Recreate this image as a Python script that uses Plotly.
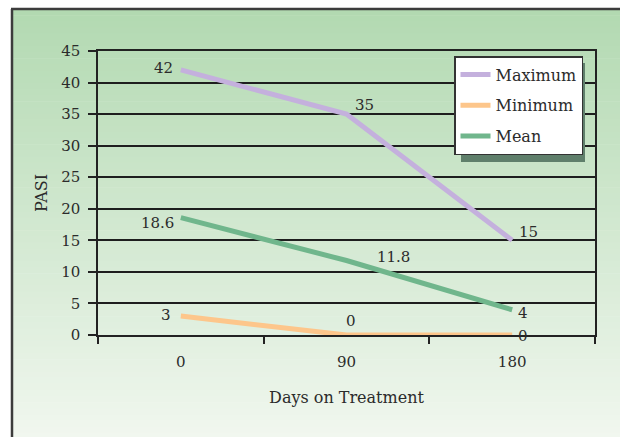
import plotly.graph_objects as go

# ---------------- data ----------------
days = ["0", "90", "180"]
maximum = [42, 35, 15]
minimum = [3, 0, 0]
mean = [18.6, 11.8, 4]
max_labels = ["42", "35", "15"]
min_labels = ["3", "0", "0"]
mean_labels = ["18.6", "11.8", "4"]
y_ticks = [0, 5, 10, 15, 20, 25, 30, 35, 40, 45]

# ---------------- layout geometry ----------------
W, H = 620, 437
PL, PR, PT, PB = 98, 595, 51, 335  # plot area in pixels
L, R, T, B = PL, W - PR, PT, H - PB
pw = W - L - R
ph = H - T - B


def px_x(px):
    return (px - L) / pw


def px_y(py):
    return (H - B - py) / ph


FONT = "DejaVu Serif"
TXT = "#2b2b2b"

series = [
    dict(name="Maximum", y=maximum, labels=max_labels, color="#c4b0dd",
         offs=[("right", -6, 2), ("left", 6, 9), ("left", 5, 8)]),
    dict(name="Minimum", y=minimum, labels=min_labels, color="#fdc68b",
         offs=[("right", -8, 1), ("center", 4, 14), ("left", 4, -1)]),
    dict(name="Mean", y=mean, labels=mean_labels, color="#70b68c",
         offs=[("right", -5, -5), ("left", 28, 4), ("left", 4, -3)]),
]

fig = go.Figure()
annotations = []
for s in series:
    fig.add_trace(go.Scatter(
        x=days, y=s["y"], mode="lines", name=s["name"],
        legendgroup=s["name"],
        line=dict(color=s["color"], width=5),
        hoverinfo="skip",
    ))
    for idx, (yi, lab, (anc, dx, dy)) in enumerate(zip(s["y"], s["labels"], s["offs"])):
        annotations.append(dict(
            x=idx, y=yi, xref="x", yref="y", text=lab, showarrow=False,
            xanchor=anc, yanchor="middle", xshift=dx, yshift=dy,
            font=dict(family=FONT, size=15, color=TXT),
        ))

# ---------------- background gradient + frame ----------------
shapes = []
top_c = (178, 217, 177)
bot_c = (241, 247, 239)
y_top, y_bot = 9, H + 2
N = 70
for i in range(N):
    f = (i + 0.5) / N
    c = tuple(round(top_c[k] + (bot_c[k] - top_c[k]) * f) for k in range(3))
    py0 = y_top + (y_bot - y_top) * i / N
    py1 = y_top + (y_bot - y_top) * (i + 1) / N + 0.6
    shapes.append(dict(
        type="rect", xref="paper", yref="paper", layer="below",
        x0=px_x(12), x1=px_x(W + 2), y0=px_y(py1), y1=px_y(py0),
        fillcolor="rgb(%d,%d,%d)" % c, line=dict(width=0),
    ))
# frame (left and top edges only; the others run off the picture)
shapes.append(dict(
    type="line", xref="paper", yref="paper", layer="below",
    x0=px_x(12), x1=px_x(12), y0=px_y(H + 2), y1=px_y(9),
    line=dict(color="#3c3c3c", width=2.5),
))
shapes.append(dict(
    type="line", xref="paper", yref="paper", layer="below",
    x0=px_x(11), x1=px_x(W + 2), y0=px_y(9), y1=px_y(9),
    line=dict(color="#3c3c3c", width=2.5),
))
# legend shadow
shapes.append(dict(
    type="rect", xref="paper", yref="paper", layer="above",
    x0=px_x(461), x1=px_x(585), y0=px_y(162), y1=px_y(63),
    fillcolor="#5f7f6b", line=dict(width=0),
))

fig.update_layout(
    width=W, height=H,
    margin=dict(l=L, r=R, t=T, b=B, autoexpand=False),
    paper_bgcolor="white",
    plot_bgcolor="rgba(0,0,0,0)",
    font=dict(family=FONT, size=15, color=TXT),
    shapes=shapes,
    annotations=annotations,
    showlegend=True,
    legend=dict(
        x=px_x(454), y=px_y(56), xanchor="left", yanchor="top",
        bgcolor="white", bordercolor="#333333", borderwidth=1.5,
        font=dict(family=FONT, size=16, color=TXT),
        itemwidth=30, tracegroupgap=7, traceorder="grouped",
    ),
    xaxis=dict(
        type="category", range=[-0.5, 2.5],
        tickson="boundaries", ticks="outside", ticklen=7, tickwidth=1.5,
        tickcolor="#222", showgrid=False,
        showline=True, linecolor="#222", linewidth=1.5, mirror=True,
        ticklabelstandoff=12,
        tickfont=dict(family=FONT, size=15, color=TXT),
        title=dict(text="Days on Treatment", standoff=22,
                   font=dict(family=FONT, size=16, color=TXT)),
        zeroline=False, fixedrange=True,
    ),
    yaxis=dict(
        range=[0, 45], tickvals=y_ticks, ticktext=[str(v) for v in y_ticks],
        ticks="outside", ticklen=8, tickwidth=1.5, tickcolor="#222",
        showgrid=True, gridcolor="#1e1e1e", gridwidth=1.8,
        showline=True, linecolor="#222", linewidth=1.5, mirror=True,
        ticklabelstandoff=5,
        tickfont=dict(family=FONT, size=15, color=TXT),
        title=dict(text="PASI", standoff=10,
                   font=dict(family=FONT, size=16, color=TXT)),
        zeroline=False, fixedrange=True,
    ),
)

fig.write_html(
    "out.html",
    config={"displayModeBar": False},
    post_script="document.body.style.margin='0';document.body.style.overflow='hidden';",
)
